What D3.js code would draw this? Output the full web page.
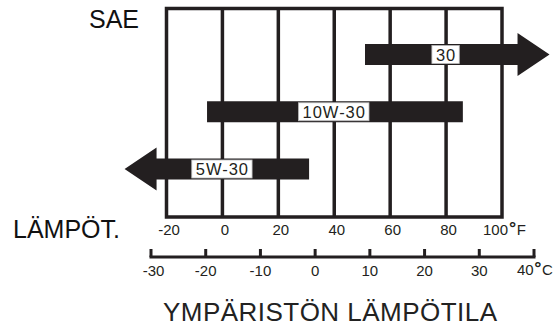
<!DOCTYPE html>
<html lang="fi">
<head>
<meta charset="UTF-8">
<title>SAE viskositeetti</title>
<style>
  body { margin: 0; background: #fff; }
  svg { display: block; font-family: "Liberation Sans", Arial, sans-serif; }
</style>
</head>
<body>
<div id="chart"></div>
<script src="https://d3js.org/d3.v7.min.js"></script>
<script>
// data
var fTicks = [-20, 0, 20, 40, 60, 80, 100];
var cTicks = [-30, -20, -10, 0, 10, 20, 30, 40];
var grades = ["30", "10W-30", "5W-30"];
var barFrom = [51, -5.5, -35];     // degF, arrow tip for left arrows
var barTo = [117, 86, 31];         // degF, arrow tip for right arrows
var arrowDir = ["right", "none", "left"];
var labelAt = [80, 40, 0];         // degF where the grade box sits

var width = 556, height = 327;
var ink = "#231f20";

var svg = d3.select("#chart").append("svg")
    .attr("width", width)
    .attr("height", height);

// scales
var xF = d3.scaleLinear().domain([-20, 100]).range([166.5, 502]);
var xC = d3.scaleLinear().domain([-30, 40]).range([151, 534]);
var y = d3.scalePoint().domain(grades).range([54.5, 169]);

var frameTop = 8.5, frameBottom = 217;

// frame + vertical grid
svg.append("rect")
    .attr("x", xF(-20)).attr("y", frameTop)
    .attr("width", xF(100) - xF(-20))
    .attr("height", frameBottom - frameTop)
    .attr("fill", "none")
    .attr("stroke", ink)
    .attr("stroke-width", 3.5);

svg.selectAll(".grid")
    .data(fTicks.slice(1, -1))
    .enter().append("line")
      .attr("x1", function(d) { return xF(d); })
      .attr("x2", function(d) { return xF(d); })
      .attr("y1", frameTop).attr("y2", frameBottom)
      .attr("stroke", ink)
      .attr("stroke-width", 3.5);

// bars
var barH = 21, headH = 21.5, headL = 32;

function barPath(i) {
  var x0 = xF(barFrom[i]), x1 = xF(barTo[i]), cy = y(grades[i]);
  var t = cy - barH / 2, b = cy + barH / 2;
  var p = d3.path();
  if (arrowDir[i] === "right") {
    var hb = x1 - headL;
    p.moveTo(x0, t); p.lineTo(hb, t); p.lineTo(hb, cy - headH);
    p.lineTo(x1, cy); p.lineTo(hb, cy + headH); p.lineTo(hb, b);
    p.lineTo(x0, b);
  } else if (arrowDir[i] === "left") {
    var hl = x0 + headL;
    p.moveTo(x1, t); p.lineTo(hl, t); p.lineTo(hl, cy - headH);
    p.lineTo(x0, cy); p.lineTo(hl, cy + headH); p.lineTo(hl, b);
    p.lineTo(x1, b);
  } else {
    p.rect(x0, t, x1 - x0, barH);
  }
  p.closePath();
  return p.toString();
}

svg.selectAll(".bar")
    .data(grades)
    .enter().append("path")
      .attr("d", function(d, i) { return barPath(i); })
      .attr("fill", ink);

// grade labels in white boxes
var lab = svg.selectAll(".lab")
    .data(grades)
    .enter().append("g");

lab.append("text")
    .attr("x", function(d, i) { return xF(labelAt[i]); })
    .attr("y", function(d) { return y(d) + 6; })
    .attr("text-anchor", "middle")
    .attr("font-size", 16.5)
    .attr("letter-spacing", 1)
    .attr("fill", ink)
    .text(function(d) { return d; });

lab.each(function(d) {
  var g = d3.select(this);
  var bb = g.select("text").node().getBBox();
  g.insert("rect", "text")
      .attr("x", bb.x - 4)
      .attr("y", y(d) - barH / 2 + 1.5)
      .attr("width", bb.width + 7)
      .attr("height", barH - 3)
      .attr("fill", "#fff")
      .attr("stroke", "#bbb")
      .attr("stroke-width", 0.8);
});

// Fahrenheit labels
svg.selectAll(".fl")
    .data(fTicks.slice(0, -1))
    .enter().append("text")
      .attr("x", function(d) { return xF(d) + 2.5; })
      .attr("y", 235)
      .attr("text-anchor", "middle")
      .attr("font-size", 15)
      .attr("fill", ink)
      .text(function(d) { return d; });

var fLast = svg.append("text")
    .attr("x", xF(100) - 19)
    .attr("y", 235)
    .attr("font-size", 15)
    .attr("fill", ink);
fLast.append("tspan").text(fTicks[fTicks.length - 1]);
fLast.append("tspan").attr("dx", 1).attr("dy", -1).attr("font-size", 18).attr("font-weight", "bold").text("°");
fLast.append("tspan").attr("dx", 0.5).attr("dy", 1).text("F");

// Celsius axis
var cy0 = 257;
svg.append("line")
    .attr("x1", xC(-30) - 1.5).attr("x2", xC(40) + 1.5)
    .attr("y1", cy0).attr("y2", cy0)
    .attr("stroke", ink)
    .attr("stroke-width", 3);

svg.selectAll(".ct")
    .data(cTicks)
    .enter().append("line")
      .attr("x1", function(d) { return xC(d); })
      .attr("x2", function(d) { return xC(d); })
      .attr("y1", 249).attr("y2", cy0)
      .attr("stroke", ink)
      .attr("stroke-width", 3);

svg.selectAll(".cl")
    .data(cTicks.slice(0, -1))
    .enter().append("text")
      .attr("x", function(d) { return xC(d) + (d === -30 ? 2.5 : 0); })
      .attr("y", 276)
      .attr("text-anchor", "middle")
      .attr("font-size", 15)
      .attr("fill", ink)
      .text(function(d) { return d; });

var cLast = svg.append("text")
    .attr("x", xC(40) - 17)
    .attr("y", 275)
    .attr("font-size", 15)
    .attr("fill", ink);
cLast.append("tspan").text(cTicks[cTicks.length - 1]);
cLast.append("tspan").attr("dx", 0.5).attr("dy", -1).attr("font-size", 18).attr("font-weight", "bold").text("°");
cLast.append("tspan").attr("dx", 0.5).attr("dy", 1).text("C");

// titles
svg.append("text")
    .attr("x", 89).attr("y", 28)
    .attr("font-size", 25)
    .attr("fill", "#111")
    .text("SAE");

svg.append("text")
    .attr("x", 13).attr("y", 238)
    .attr("font-size", 25)
    .attr("fill", "#111")
    .text("LÄMPÖT.");

svg.append("text")
    .attr("x", 163).attr("y", 321)
    .attr("font-size", 26)
    .attr("textLength", 334)
    .attr("fill", "#222")
    .text("YMPÄRISTÖN LÄMPÖTILA");
</script>
</body>
</html>
